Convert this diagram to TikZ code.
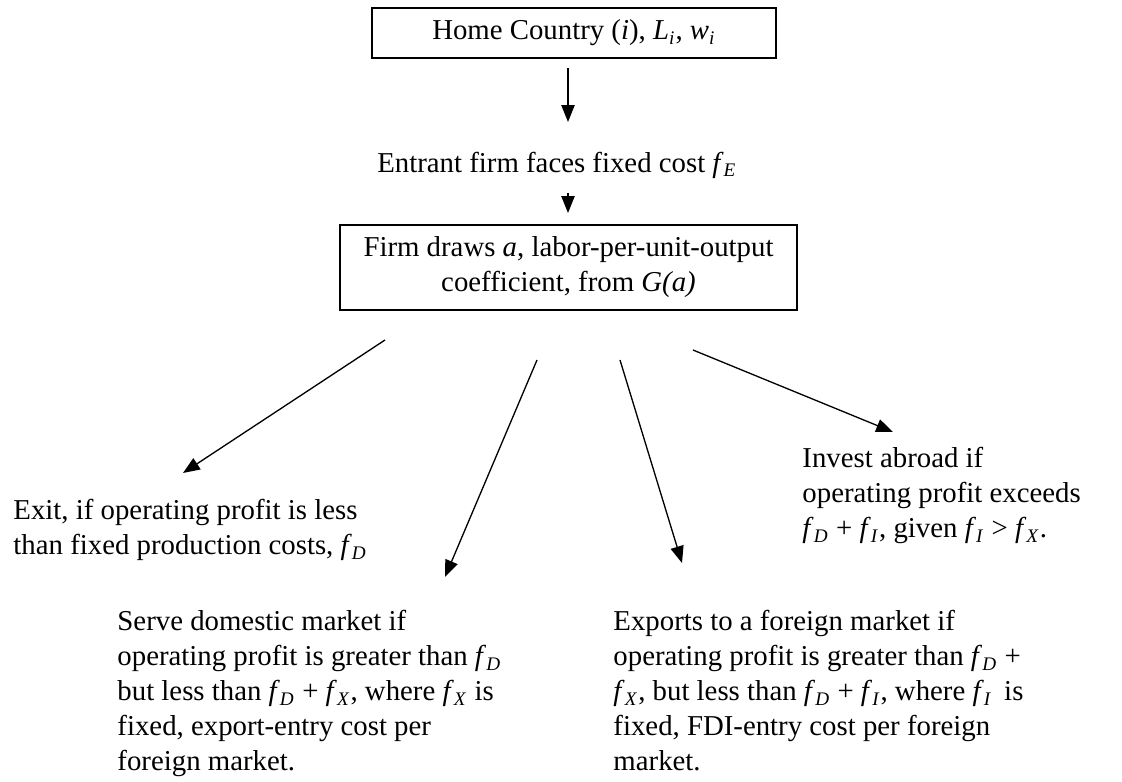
\documentclass[tikz,border=0pt]{standalone}
\usepackage{fontspec}
\setmainfont{Liberation Serif}
\usetikzlibrary{arrows.meta}
\begin{document}
\begin{tikzpicture}[x=0.41667pt,y=-0.41667pt,
  txt/.style={font=\fontsize{12}{14.6}\selectfont, inner sep=0pt},
  boxed/.style={txt, draw, line width=0.6pt, align=center},
  outcome/.style={txt, align=left, anchor=north west},
  arr/.style={line width=0.55pt, -{Triangle[length=7pt,width=5.5pt]}}]
\useasboundingbox (0,0) rectangle (1122,782);
% boxes and texts
\node[boxed, minimum width=168.3pt, minimum height=20.8pt] (home) at (574,33)
  {Home Country (\textit{i}), \textit{L}\textsubscript{\textit{i}}, \textit{w}\textsubscript{\textit{i}}};
\node[txt] (entrant) at (557,165)
  {Entrant firm faces fixed cost \textit{f}\textsubscript{\textit{E}}};
\node[boxed, minimum width=190.4pt, minimum height=35.4pt] (draws) at (568.5,267.5)
  {Firm draws \textit{a}, labor-per-unit-output\\coefficient, from \textit{G(a)}};
\node[outcome] (exit) at (13,499)
  {Exit, if operating profit is less\\than fixed production costs, \textit{f}\textsubscript{\textit{D}}};
\node[outcome] (serve) at (117,610)
  {Serve domestic market if\\operating profit is greater than \textit{f}\textsubscript{\textit{D}}\\but less than \textit{f}\textsubscript{\textit{D}} + \textit{f}\textsubscript{\textit{X}}, where \textit{f}\textsubscript{\textit{X}} is\\fixed, export-entry cost per\\foreign market.};
\node[outcome] (exports) at (613,610)
  {Exports to a foreign market if\\operating profit is greater than \textit{f}\textsubscript{\textit{D}} +\\\textit{f}\textsubscript{\textit{X}}, but less than \textit{f}\textsubscript{\textit{D}} + \textit{f}\textsubscript{\textit{I}}, where \textit{f}\textsubscript{\textit{I}}\, is\\fixed, FDI-entry cost per foreign\\market.};
\node[outcome] (invest) at (802,447)
  {Invest abroad if\\operating profit exceeds\\\textit{f}\textsubscript{\textit{D}} + \textit{f}\textsubscript{\textit{I}}, given \textit{f}\textsubscript{\textit{I}} > \textit{f}\textsubscript{\textit{X}}.};
% arrow end points
\coordinate (a1s) at (568,68);   \coordinate (a1e) at (568,122);
\coordinate (a2s) at (568,193);  \coordinate (a2e) at (568,213);
\coordinate (b1s) at (385,340);  \coordinate (b1e) at (183,473);
\coordinate (b2s) at (537,360);  \coordinate (b2e) at (445,577);
\coordinate (b3s) at (620,360);  \coordinate (b3e) at (682,563);
\coordinate (b4s) at (693,350);  \coordinate (b4e) at (893,432);
\draw[arr] (a1s) -- (a1e);
\draw[arr] (a2s) -- (a2e);
\draw[arr] (b1s) -- (b1e);
\draw[arr] (b2s) -- (b2e);
\draw[arr] (b3s) -- (b3e);
\draw[arr] (b4s) -- (b4e);
\end{tikzpicture}
\end{document}
